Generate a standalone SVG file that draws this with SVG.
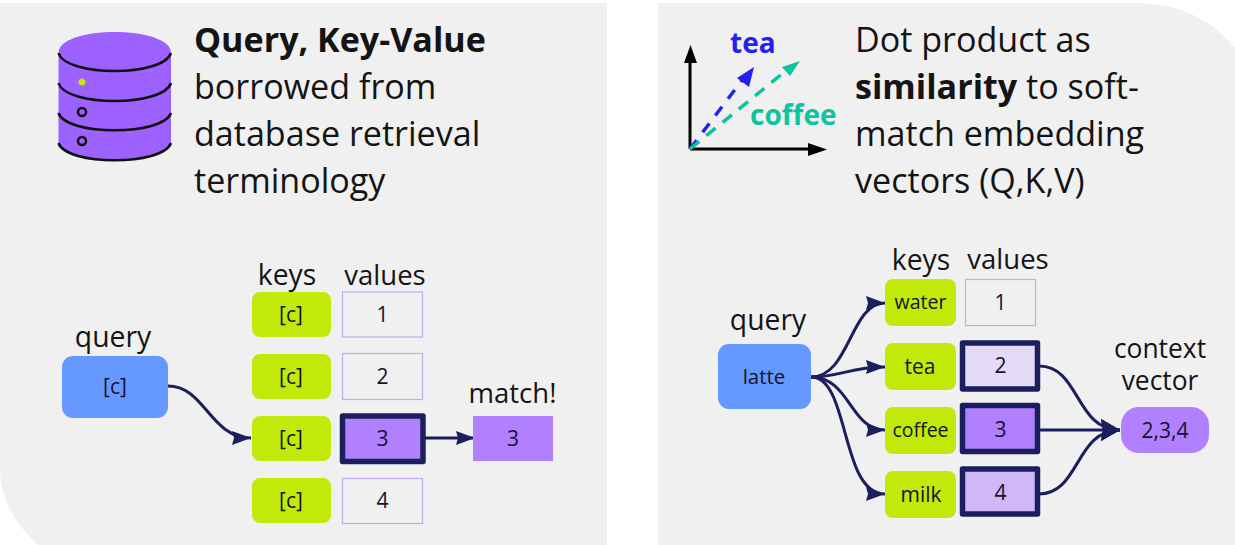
<svg xmlns="http://www.w3.org/2000/svg" width="1235" height="545" viewBox="0 0 1235 545">
<style>
text{font-family:"Open Sans","Noto Sans",sans-serif;fill:#141414}
.h{font-size:34.1px}
.l{font-size:28.300px;text-anchor:middle}
.v{font-size:27.500px;text-anchor:middle}
.t{font-size:26.400px;text-anchor:middle}
.n{font-size:21px;text-anchor:middle;fill:#141428}
.s{font-size:19.500px;text-anchor:middle;fill:#141428}
.key{fill:#c1e90a}
.val{fill:none;stroke:#c4a8f0;stroke-width:1.200}
.sel{stroke:#1c1f5e;stroke-width:5.500;stroke-linejoin:round}
.c{fill:none;stroke:#1c1f5e;stroke-width:3}
.db{fill:none;stroke:#111;stroke-width:2.500}
</style>
<defs>
<marker id="a" markerUnits="userSpaceOnUse" markerWidth="20" markerHeight="16" refX="19" refY="8" orient="auto"><path d="M0 1L19 8L0 15L2 8Z" fill="#1c1f5e"/></marker>
<marker id="b" markerUnits="userSpaceOnUse" markerWidth="20" markerHeight="22" refX="19" refY="11" orient="auto"><path d="M0 0L19 11L0 22L2 11Z" fill="#1c1f5e"/></marker>
</defs>
<rect width="1235" height="545" fill="#fff"/>
<path id="panel-left" d="M0 3H607V545H38Q0 510 0 470Z" fill="#f0f0f0"/>
<path id="panel-right" d="M658 3H1140Q1200 5 1235 48V545H658Z" fill="#f0f0f0"/>
<g id="database">
<path d="M58.500 53C58.500 25 171 25 171 53V143C171 166 58.500 166 58.500 143Z" fill="#9c61ff"/>
<path class="db" d="M58.500 53C66 77 163 77 171 53M58.500 83C66 107 163 107 171 83M58.500 113C66 136 163 136 171 113M58.500 143C66 166 163 166 171 143"/>
<circle cx="82" cy="82" r="3.500" fill="#c1e90a"/>
<circle cx="82" cy="112" r="4" fill="none" stroke="#111" stroke-width="2.500"/>
<circle cx="82" cy="141" r="4" fill="none" stroke="#111" stroke-width="2.500"/>
</g>
<g id="title-left">
<text class="h" x="194" y="52" font-weight="700">Query, Key-Value</text>
<text class="h" x="194" y="99">borrowed from</text>
<text class="h" x="194" y="146">database retrieval</text>
<text class="h" x="194" y="193">terminology</text>
</g>
<g id="connectors-left">
<path class="c" d="M168 386C205 386 210 438 251 438" marker-end="url(#a)"/>
<path class="c" d="M425 438H475" marker-end="url(#a)"/>
</g>
<text class="l" x="113" y="347">query</text>
<text class="l" x="287" y="285">keys</text>
<text class="v" x="385" y="285">values</text>
<text class="v" x="512.500" y="403">match!</text>
<g id="q1"><rect x="62" y="356" width="106" height="62" rx="11" fill="#6699ff"/><text class="n" x="115" y="394">[c]</text></g>
<g id="k1"><rect class="key" x="252" y="292" width="79" height="45" rx="8"/><text class="n" x="291" y="322">[c]</text></g>
<g id="k2"><rect class="key" x="252" y="354" width="79" height="45" rx="8"/><text class="n" x="291" y="384">[c]</text></g>
<g id="k3"><rect class="key" x="252" y="416" width="79" height="45" rx="8"/><text class="n" x="291" y="446">[c]</text></g>
<g id="k4"><rect class="key" x="252" y="478" width="79" height="45" rx="8"/><text class="n" x="291" y="508">[c]</text></g>
<g id="v1"><rect class="val" x="342.500" y="292" width="80" height="45"/><text class="n" x="382.500" y="322">1</text></g>
<g id="v2"><rect class="val" x="342.500" y="353.500" width="80" height="46"/><text class="n" x="382.500" y="384">2</text></g>
<g id="v3"><rect class="sel" x="342.500" y="416" width="80.500" height="45.500" fill="#b080ff"/><text class="n" x="382.500" y="446">3</text></g>
<g id="v4"><rect class="val" x="342.500" y="478.500" width="80" height="45"/><text class="n" x="382.500" y="508">4</text></g>
<g id="match"><rect x="473" y="416" width="80" height="45" fill="#b080ff"/><text class="n" x="513" y="446">3</text></g>

<g id="axes">
<path d="M690 149V62" stroke="#000" stroke-width="3" fill="none"/>
<path d="M684 63L690.500 45L697 63Z" fill="#000"/>
<path d="M690 149H812" stroke="#000" stroke-width="3" fill="none"/>
<path d="M808 143L827 149.500L808 156Z" fill="#000"/>
<path d="M690 149L743 79" stroke="#2222ee" stroke-width="3.500" stroke-dasharray="11 10" fill="none"/>
<path d="M737 78L754 67L749 87Z" fill="#2222ee"/>
<path d="M690 149L788 69" stroke="#0cc4a0" stroke-width="3.500" stroke-dasharray="12 9" fill="none"/>
<path d="M782 67L800 61L790 76Z" fill="#0cc4a0"/>
<text x="730" y="52.500" font-size="28" font-weight="700" style="fill:#2222ee">tea</text>
<text x="750" y="125" font-size="28" font-weight="700" style="fill:#0cc4a0">coffee</text>
</g>
<g id="title-right">
<text class="h" x="855" y="52">Dot product as</text>
<text class="h" x="855" y="99"><tspan font-weight="700">similarity</tspan> to soft-</text>
<text class="h" x="855" y="146">match embedding</text>
<text class="h" x="855" y="193">vectors (Q,K,V)</text>
</g>
<g id="connectors-right">
<path class="c" d="M811 377C850 377 850 303 885 303" marker-end="url(#a)"/>
<path class="c" d="M811 377C840 377 850 367 885 367" marker-end="url(#a)"/>
<path class="c" d="M811 377C850 377 850 430 885 430" marker-end="url(#a)"/>
<path class="c" d="M811 377C850 377 840 494 885 494" marker-end="url(#a)"/>
<path class="c" d="M1039 366C1080 366 1075 430 1120 430" marker-end="url(#b)"/>
<path class="c" d="M1039 430H1120" marker-end="url(#b)"/>
<path class="c" d="M1039 494C1080 494 1075 430 1120 430" marker-end="url(#b)"/>
</g>
<text class="l" x="768" y="330">query</text>
<text class="l" x="921" y="270">keys</text>
<text class="v" x="1008" y="269">values</text>
<text class="t"><tspan x="1160" y="358">context</tspan><tspan x="1160" y="390">vector</tspan></text>
<g id="q2"><rect x="718" y="344" width="93" height="65" rx="11" fill="#6699ff"/><text class="s" x="764" y="384" style="font-size:20.500px">latte</text></g>
<g id="kw"><rect class="key" x="885" y="279" width="71" height="47" rx="8"/><text class="s" x="920.500" y="309">water</text></g>
<g id="kt"><rect class="key" x="885" y="343" width="71" height="47" rx="8"/><text class="n" x="920" y="374">tea</text></g>
<g id="kc"><rect class="key" x="885" y="407" width="71" height="47" rx="8"/><text class="s" x="920.500" y="437">coffee</text></g>
<g id="km"><rect class="key" x="885" y="471" width="71" height="47" rx="8"/><text class="n" x="921" y="502">milk</text></g>
<g id="w1"><rect class="val" x="965.500" y="279.500" width="70" height="46"/><text class="n" x="1000.500" y="310">1</text></g>
<g id="w2"><rect class="sel" x="962.500" y="343" width="75" height="46" fill="#e3daf5"/><text class="n" x="1000.500" y="373">2</text></g>
<g id="w3"><rect class="sel" x="962.500" y="405.500" width="75" height="46" fill="#b080ff"/><text class="n" x="1000.500" y="437">3</text></g>
<g id="w4"><rect class="sel" x="962.500" y="469" width="75" height="45" fill="#d0b8f8"/><text class="n" x="1000.500" y="500">4</text></g>
<g id="ctx"><rect x="1121" y="407" width="88" height="46" rx="18" fill="#b080ff"/><text class="n" x="1165" y="438">2,3,4</text></g>
</svg>
